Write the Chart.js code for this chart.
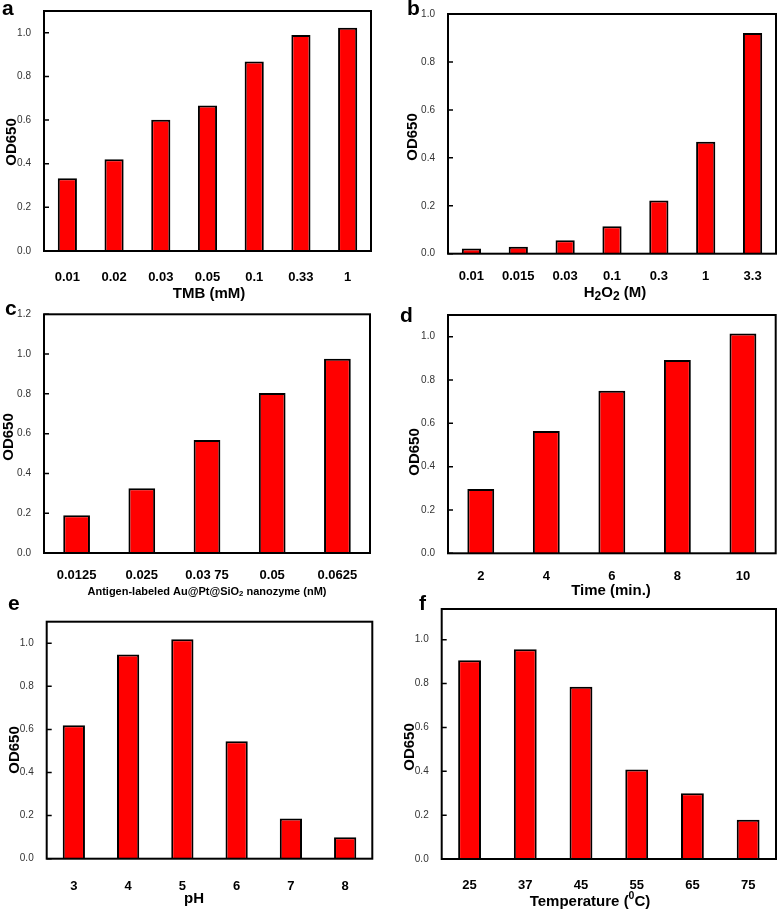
<!DOCTYPE html>
<html>
<head>
<meta charset="utf-8">
<script src="https://cdn.jsdelivr.net/npm/chart.js@4.4.1/dist/chart.umd.min.js"></script>
<style>
  body { margin: 0; background: #fff; }
  #wrap { position: relative; width: 778px; height: 912px; }
  canvas { position: absolute; }
</style>
</head>
<body>
<div id="wrap">
  <canvas id="pa"></canvas>
  <canvas id="pb"></canvas>
  <canvas id="pc"></canvas>
  <canvas id="pd"></canvas>
  <canvas id="pe"></canvas>
  <canvas id="pf"></canvas>
</div>
<script>
// values (OD650)
var tmbLabels = ['0.01', '0.02', '0.03', '0.05', '0.1', '0.33', '1'];
var tmbOD = [0.333, 0.42, 0.602, 0.667, 0.868, 0.99, 1.023];

var h2o2Labels = ['0.01', '0.015', '0.03', '0.1', '0.3', '1', '3.3'];
var h2o2OD = [0.022, 0.029, 0.056, 0.115, 0.222, 0.467, 0.921];

var probeLabels = ['0.0125', '0.025', '0.03 75', '0.05', '0.0625'];
var probeOD = [0.19, 0.325, 0.568, 0.804, 0.977];

var timeLabels = ['2', '4', '6', '8', '10'];
var timeOD = [0.297, 0.565, 0.75, 0.892, 1.015];

var phLabels = ['3', '4', '5', '6', '7', '8'];
var phOD = [0.619, 0.948, 1.019, 0.545, 0.187, 0.099];

var tempLabels = ['25', '37', '45', '55', '65', '75'];
var tempOD = [0.906, 0.956, 0.786, 0.408, 0.30, 0.179];

var FONT = "Arial, 'Liberation Sans', Helvetica, sans-serif";

// page layout of each panel: canvas rect, plot box [l,t,r,b], text spots
var panels = [
  { id: 'pa', x: 0, y: 0, w: 389, h: 305, box: [44, 11, 371, 251], max: 1.1,
    labels: tmbLabels, data: tmbOD, tickPad: 11,
    letter: ['a', 2, 15], yTitle: [12, 142],
    xTitle: { parts: [['TMB (mM)', '']], x: 209, y: 298, size: 15 } },
  { id: 'pb', x: 389, y: 0, w: 389, h: 305, box: [448, 14, 776, 253.7], max: 1.0,
    labels: h2o2Labels, data: h2o2OD, tickPad: 6.5,
    letter: ['b', 407, 15], yTitle: [413, 137],
    xTitle: { parts: [['H', ''], ['2', 'sub'], ['O', ''], ['2', 'sub'], [' (M)', '']], x: 615, y: 297, size: 15 } },
  { id: 'pc', x: 0, y: 300, w: 389, h: 300, box: [44, 314.3, 370, 553], max: 1.2,
    labels: probeLabels, data: probeOD, tickPad: 7,
    letter: ['c', 5, 315], yTitle: [9, 437],
    xTitle: { parts: [['Antigen-labeled Au@Pt@SiO', ''], ['2', 'low'], [' nanozyme (nM)', '']], x: 207, y: 595, size: 11 } },
  { id: 'pd', x: 389, y: 300, w: 389, h: 300, box: [448, 315, 775.7, 553.3], max: 1.1,
    labels: timeLabels, data: timeOD, tickPad: 7,
    letter: ['d', 400, 322], yTitle: [415, 452],
    xTitle: { parts: [['Time (min.)', '']], x: 611, y: 595, size: 15 } },
  { id: 'pe', x: 0, y: 590, w: 389, h: 322, box: [46.7, 621.7, 372.3, 858.7], max: 1.1,
    labels: phLabels, data: phOD, tickPad: 11.5,
    letter: ['e', 8, 610], yTitle: [15, 750],
    xTitle: { parts: [['pH', '']], x: 194, y: 903, size: 15 } },
  { id: 'pf', x: 389, y: 590, w: 389, h: 322, box: [441.7, 609, 776, 859], max: 1.14,
    labels: tempLabels, data: tempOD, tickPad: 11,
    letter: ['f', 419, 610], yTitle: [410, 747],
    xTitle: { parts: [['Temperature (', ''], ['0', 'sup'], ['C)', '']], x: 590, y: 906, size: 15 } }
];

var panelById = {};
panels.forEach(function (p) { panelById[p.id] = p; });

// draw a title made of pieces (subscripts / superscripts), centred on x
function drawRich(ctx, parts, cx, base, size) {
  var total = 0;
  var sizes = parts.map(function (part) {
    var s = part[1] === '' ? size : (part[1] === 'sub' ? size * 0.8 : size * 0.7);
    ctx.font = 'bold ' + s + 'px ' + FONT;
    total += ctx.measureText(part[0]).width;
    return s;
  });
  var x = cx - total / 2;
  ctx.textAlign = 'left';
  ctx.textBaseline = 'alphabetic';
  parts.forEach(function (part, i) {
    var dy = 0;
    if (part[1] === 'sub') dy = size * 0.2;
    if (part[1] === 'sup') dy = -size * 0.45;
    if (part[1] === 'low') dy = 1;
    ctx.font = 'bold ' + sizes[i] + 'px ' + FONT;
    ctx.fillText(part[0], x, base + dy);
    x += ctx.measureText(part[0]).width;
  });
}

// box round the plot, inward ticks on y, and the panel texts
var framePlugin = {
  id: 'frame',
  afterDraw: function (chart) {
    var p = panelById[chart.canvas.id];
    var a = chart.chartArea;
    var ctx = chart.ctx;
    var ys = chart.scales.y;
    ctx.save();
    ctx.strokeStyle = '#000';
    ctx.lineWidth = 2;
    ctx.strokeRect(a.left, a.top, a.right - a.left, a.bottom - a.top);
    ctx.lineWidth = 1.5;
    ctx.beginPath();
    ys.ticks.forEach(function (t) {
      var py = ys.getPixelForValue(t.value);
      ctx.moveTo(a.left, py);
      ctx.lineTo(a.left + 5, py);
    });
    ctx.stroke();

    ctx.fillStyle = '#000';
    ctx.font = 'bold 21px ' + FONT;
    ctx.textAlign = 'left';
    ctx.textBaseline = 'alphabetic';
    ctx.fillText(p.letter[0], p.letter[1] - p.x, p.letter[2] - p.y);

    drawRich(ctx, p.xTitle.parts, p.xTitle.x - p.x, p.xTitle.y - p.y, p.xTitle.size);

    ctx.translate(p.yTitle[0] - p.x, p.yTitle[1] - p.y);
    ctx.rotate(-Math.PI / 2);
    ctx.font = 'bold 15px ' + FONT;
    ctx.textAlign = 'center';
    ctx.textBaseline = 'middle';
    ctx.fillText('OD650', 0, 0);
    ctx.restore();
  }
};

function makePanel(p) {
  var canvas = document.getElementById(p.id);
  canvas.width = p.w;
  canvas.height = p.h;
  canvas.style.left = p.x + 'px';
  canvas.style.top = p.y + 'px';

  var yWidth = p.box[0] - p.x;
  var xHeight = p.y + p.h - p.box[3];

  new Chart(canvas, {
    type: 'bar',
    data: {
      labels: p.labels,
      datasets: [{
        data: p.data,
        backgroundColor: '#ff0000',
        borderColor: '#000',
        borderWidth: 2,
        barPercentage: 0.41,
        categoryPercentage: 1
      }]
    },
    options: {
      responsive: false,
      animation: false,
      layout: { padding: { left: 0, top: p.box[1] - p.y, right: p.x + p.w - p.box[2], bottom: 0 } },
      plugins: { legend: { display: false }, tooltip: { enabled: false } },
      scales: {
        x: {
          grid: { display: false },
          border: { display: false },
          ticks: { color: '#000', padding: p.tickPad, maxRotation: 0, autoSkip: false,
                   font: { family: FONT, size: 13, weight: 'bold' } },
          afterFit: function (s) { s.height = xHeight; }
        },
        y: {
          min: 0,
          max: p.max,
          grid: { display: false },
          border: { display: false },
          ticks: { stepSize: 0.2, includeBounds: false, color: '#333', padding: 5,
                   font: { family: FONT, size: 10 },
                   callback: function (v) { return v.toFixed(1); } },
          afterFit: function (s) { s.width = yWidth; }
        }
      }
    },
    plugins: [framePlugin]
  });
}

panels.forEach(makePanel);
</script>
</body>
</html>
